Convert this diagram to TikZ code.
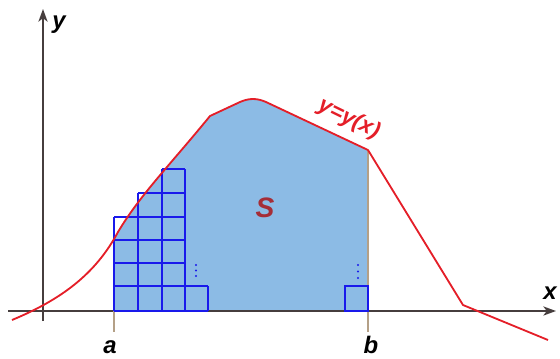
\documentclass[tikz,border=0pt]{standalone}
\usepackage{fontspec}
\setsansfont{Liberation Sans}
\usetikzlibrary{arrows.meta}
\definecolor{axisgray}{RGB}{70,62,62}
\definecolor{curvered}{RGB}{228,30,40}
\definecolor{areablue}{RGB}{140,187,229}
\definecolor{labelred}{RGB}{165,45,55}
\definecolor{ticktan}{RGB}{180,160,135}
\definecolor{cellblue}{RGB}{25,25,235}
\begin{document}
\begin{tikzpicture}[x=0.025cm,y=-0.025cm,
    axisline/.style={line width=1.4pt,draw=axisgray,-{Stealth[length=9pt,width=6.5pt,inset=2.5pt]}},
    tickline/.style={line width=1.1pt,draw=ticktan},
    cell/.style={line width=1.1pt,draw=cellblue},
    graphline/.style={line width=1.3pt,draw=curvered,line join=round},
    lab/.style={font=\fontsize{17}{20}\selectfont\sffamily\bfseries\itshape,text=black,inner sep=0pt}]
        \useasboundingbox (0,0) rectangle (560,358);
        \def\curvepath{(12,320) .. controls (60,300) and (95,275) .. (118,232)
            .. controls (140,195) and (170,165) .. (210,116)
            -- (240,102) .. controls (249,98) and (257,98) .. (266,102) -- (368,150) -- (463,305) -- (548,340)}
        \coordinate (O) at (43,311);
        \coordinate (xs) at (8,311);
        \coordinate (xe) at (556,311);
        \coordinate (ys) at (43,321);
        \coordinate (ye) at (43,9);
        \coordinate (a0) at (114,311);
        \coordinate (a1) at (114,332);
        \coordinate (b0) at (368,150);
        \coordinate (b1) at (368,332);
        %Shade
        \begin{scope}
            \clip (114,0) rectangle (368,311);
            \fill[areablue] \curvepath -- (548,358) -- (12,358) -- cycle;
        \end{scope}
        %Axis
        \draw[axisline] (xs) -- (xe);
        \draw[axisline] (ys) -- (ye);
        \draw[tickline] (a0) -- (a1);
        \draw[tickline] (b0) -- (b1);
        %Cells
        \draw[cell] (114,311) -- (114,217);
        \draw[cell] (138,311) -- (138,193);
        \draw[cell] (162,311) -- (162,169);
        \draw[cell] (185,311) -- (185,169);
        \draw[cell] (208,311) -- (208,286);
        \draw[cell] (114,311) -- (208,311);
        \draw[cell] (114,286) -- (208,286);
        \draw[cell] (114,263) -- (185,263);
        \draw[cell] (114,240) -- (185,240);
        \draw[cell] (114,217) -- (185,217);
        \draw[cell] (138,193) -- (185,193);
        \draw[cell] (162,169) -- (185,169);
        \draw[cell] (345,286) rectangle (368,311);
        %Dots
        \fill[cellblue] (196,265) circle(1.2);
        \fill[cellblue] (196,270.5) circle(1.2);
        \fill[cellblue] (196,276) circle(1.2);
        \fill[cellblue] (358,265) circle(1.2);
        \fill[cellblue] (358,271.5) circle(1.2);
        \fill[cellblue] (358,278) circle(1.2);
        %Curve
        \draw[graphline] \curvepath;
        %Labels
        \node[lab] (ylab) at (59,25) {y};
        \node[lab] (xlab) at (550,293) {x};
        \node[lab] (alab) at (110,347) {a};
        \node[lab] (blab) at (371,345) {b};
        \node[lab,text=labelred,font=\fontsize{20}{24}\selectfont\sffamily\bfseries\itshape] (slab) at (265,208) {S};
        \node[lab,text=curvered,font=\fontsize{16}{18}\selectfont\sffamily\bfseries\itshape,rotate=-26] (curvelab) at (349,119) {y=y(x)};
\end{tikzpicture}
\end{document}
